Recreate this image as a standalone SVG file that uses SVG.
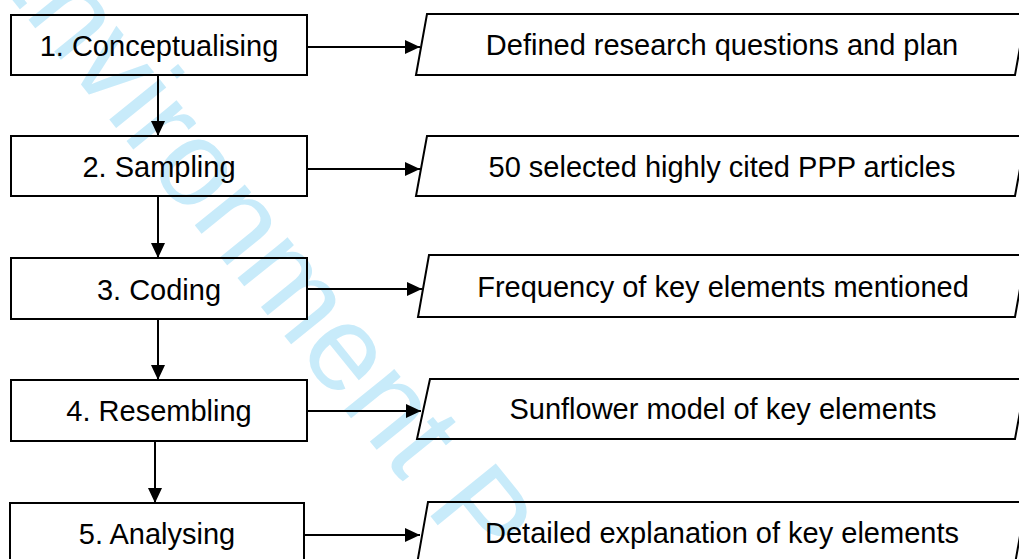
<svg xmlns="http://www.w3.org/2000/svg" width="1019" height="559" viewBox="0 0 1019 559">
  <style>
    .box { fill: none; stroke: #000; stroke-width: 2; }
    .lbl { font-family: "Liberation Sans", Arial, sans-serif; font-size: 29px; fill: #000; text-anchor: middle; }
    .conn { stroke: #000; stroke-width: 2; fill: none; marker-end: url(#ah); }
    .wm { font-family: "Liberation Sans", Arial, sans-serif; font-size: 122px; fill: #c8ebfa; }
  </style>
  <defs>
    <marker id="ah" markerUnits="userSpaceOnUse" markerWidth="15" markerHeight="14" refX="15" refY="7" orient="auto">
      <path d="M0,0 L15,7 L0,14 z" fill="#000"/>
    </marker>
  </defs>
  <rect width="1019" height="559" fill="#fff"/>
  <g id="watermark">
    <text class="wm" transform="translate(-28,-50) rotate(51)" x="0" y="0">Environment P</text>
  </g>
  <g id="connectors">
    <line class="conn" x1="158" y1="76" x2="158" y2="136"/>
    <line class="conn" x1="158" y1="197" x2="158" y2="258"/>
    <line class="conn" x1="158" y1="320" x2="158" y2="380"/>
    <line class="conn" x1="155" y1="442" x2="155" y2="503"/>
    <line class="conn" x1="308" y1="47" x2="420" y2="47"/>
    <line class="conn" x1="308" y1="169" x2="420" y2="169"/>
    <line class="conn" x1="308" y1="289" x2="422" y2="289"/>
    <line class="conn" x1="308" y1="411" x2="421" y2="411"/>
    <line class="conn" x1="305" y1="535" x2="420" y2="535"/>
  </g>
  <g id="step1">
    <rect class="box" x="11" y="15" width="296" height="60"/>
    <text class="lbl" x="159" y="55.5">1. Conceptualising</text>
  </g>
  <g id="step2">
    <rect class="box" x="11" y="136" width="296" height="60"/>
    <text class="lbl" x="159" y="176.5">2. Sampling</text>
  </g>
  <g id="step3">
    <rect class="box" x="11" y="258" width="296" height="61"/>
    <text class="lbl" x="159" y="299.5">3. Coding</text>
  </g>
  <g id="step4">
    <rect class="box" x="11" y="380" width="296" height="61"/>
    <text class="lbl" x="159" y="421">4. Resembling</text>
  </g>
  <g id="step5">
    <rect class="box" x="10" y="503" width="294" height="62"/>
    <text class="lbl" x="157" y="544">5. Analysing</text>
  </g>
  <g id="out1">
    <polygon class="box" points="427,14 1026,14 1015,75 416,75"/>
    <text class="lbl" x="722" y="55">Defined research questions and plan</text>
  </g>
  <g id="out2">
    <polygon class="box" points="427,136 1026,136 1015,196 416,196"/>
    <text class="lbl" x="722" y="176.5">50 selected highly cited PPP articles</text>
  </g>
  <g id="out3">
    <polygon class="box" points="429,255 1026,255 1015,317 418,317"/>
    <text class="lbl" x="723" y="297">Frequency of key elements mentioned</text>
  </g>
  <g id="out4">
    <polygon class="box" points="430,379 1026,379 1015,439 417,439"/>
    <text class="lbl" x="723" y="419">Sunflower model of key elements</text>
  </g>
  <g id="out5">
    <polygon class="box" points="428,502 1026,502 1015,564 417,564"/>
    <text class="lbl" x="722" y="543">Detailed explanation of key elements</text>
  </g>
</svg>
